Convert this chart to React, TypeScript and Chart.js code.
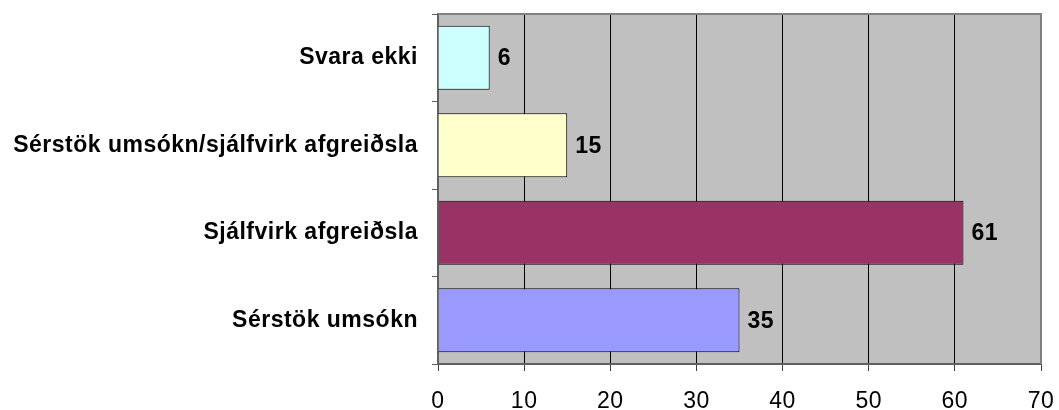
import React, { useEffect, useRef } from "react";
import { Chart, registerables } from "chart.js";

Chart.register(...registerables);

const categories = [
  "Svara ekki",
  "Sérstök umsókn/sjálfvirk afgreiðsla",
  "Sjálfvirk afgreiðsla",
  "Sérstök umsókn",
];
const values = [6, 15, 61, 35];
const barColors = ["#CCFFFF", "#FFFFCC", "#993366", "#9999FF"];
const xMin = 0;
const xMax = 70;
const xStep = 10;

const FONT = "'Liberation Sans', Arial, sans-serif";

const plotPlugin = {
  id: "plotDecor",
  beforeDraw(chart: any) {
    const { ctx, chartArea } = chart;
    ctx.save();
    ctx.fillStyle = "#C0C0C0";
    ctx.fillRect(chartArea.left, chartArea.top, chartArea.right - chartArea.left, chartArea.bottom - chartArea.top);
    ctx.restore();
    (ctx as any).letterSpacing = "0.5px";
  },
  afterDatasetsDraw(chart: any) {
    const { ctx, chartArea } = chart;
    ctx.save();
    ctx.strokeStyle = "#808080";
    ctx.lineWidth = 2;
    ctx.beginPath();
    ctx.moveTo(chartArea.left, chartArea.top);
    ctx.lineTo(chartArea.right, chartArea.top);
    ctx.lineTo(chartArea.right, chartArea.bottom);
    ctx.stroke();
    const meta = chart.getDatasetMeta(0);
    ctx.fillStyle = "#000";
    ctx.font = `bold 23px ${FONT}`;
    (ctx as any).letterSpacing = "0.5px";
    ctx.textAlign = "left";
    ctx.textBaseline = "middle";
    meta.data.forEach((bar: any, i: number) => {
      ctx.fillText(String(values[i]), bar.x + 8, bar.y + 1);
    });
    ctx.restore();
  },
};

export default function App() {
  const ref = useRef<HTMLCanvasElement>(null);
  useEffect(() => {
    if (!ref.current) return;
    const chart = new Chart(ref.current, {
      type: "bar",
      data: {
        labels: categories,
        datasets: [
          {
            data: values,
            backgroundColor: barColors,
            borderColor: "#000000",
            borderWidth: 1,
            barPercentage: 0.73,
            categoryPercentage: 1,
          },
        ],
      },
      options: {
        indexAxis: "y",
        animation: false,
        responsive: false,
        maintainAspectRatio: false,
        layout: { padding: { top: 14, right: 18, left: 0, bottom: 0 } },
        plugins: {
          legend: { display: false },
          tooltip: { enabled: false },
        },
        scales: {
          x: {
            min: xMin,
            max: xMax,
            ticks: {
              stepSize: xStep,
              color: "#000",
              font: { family: FONT, size: 23 },
              padding: 17,
              maxRotation: 0,
            },
            grid: {
              color: (c: any) => (c.tick && (c.tick.value === xMin || c.tick.value === xMax) ? "rgba(0,0,0,0)" : "#000000"),
              tickColor: "#404040",
              tickLength: 7,
              lineWidth: 1,
            },
            border: { display: true, color: "#606060", width: 2 },
            afterFit: (s: any) => {
              s.height = 46;
              s.paddingLeft = 0;
              s.paddingRight = 0;
              s.paddingTop = 0;
              s.paddingBottom = 0;
            },
          },
          y: {
            ticks: {
              color: "#000",
              font: { family: FONT, size: 23, weight: "bold" },
              padding: 14,
            },
            grid: {
              drawOnChartArea: false,
              offset: true,
              tickLength: 6,
              color: "#606060",
            },
            border: { display: true, color: "#606060", width: 2 },
            afterFit: (s: any) => {
              s.width = 438;
              s.paddingTop = 0;
              s.paddingBottom = 0;
              s.paddingLeft = 0;
              s.paddingRight = 0;
            },
          },
        },
      },
      plugins: [plotPlugin],
    });
    return () => chart.destroy();
  }, []);
  return (
    <div style={{ position: "fixed", left: 0, top: 0, width: 1059, height: 410, background: "#fff" }}>
      <canvas ref={ref} width={1059} height={410} style={{ width: 1059, height: 410 }} />
    </div>
  );
}
